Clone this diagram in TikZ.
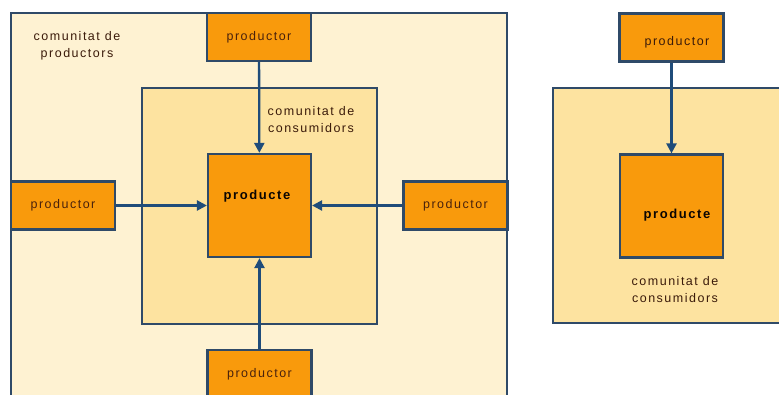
\documentclass[tikz,border=0pt]{standalone}
\usepackage{fontspec}
\setmainfont{Liberation Sans}[LetterSpace=12]
\usetikzlibrary{arrows.meta}
\definecolor{edgeblue}{HTML}{2F4A68}
\definecolor{arrowblue}{HTML}{1F4C7A}
\definecolor{creamfill}{HTML}{FEF2D2}
\definecolor{sandfill}{HTML}{FDE3A0}
\definecolor{orangefill}{HTML}{F99A0C}
\definecolor{inkbrown}{HTML}{4A220C}
\tikzset{
  area/.style={draw=edgeblue, line width=2.2pt, inner sep=0pt},
  prodbox/.style={draw=edgeblue, line width=2.2pt, fill=orangefill, inner sep=0pt,
    minimum width=104pt, minimum height=48pt, text=inkbrown,
    font=\fontsize{12.5}{15}\selectfont},
  itembox/.style={draw=edgeblue, line width=2.2pt, fill=orangefill, inner sep=0pt,
    minimum width=103pt, minimum height=103pt},
  caption/.style={text=inkbrown!80!black, align=center, inner sep=0pt,
    font=\fontsize{12.5}{17}\selectfont},
  itemtext/.style={text=black!85!inkbrown, inner sep=0pt,
    font=\fontsize{13}{15}\selectfont\bfseries},
  flow/.style={draw=arrowblue, line width=2.3pt, -{Triangle[length=10pt,width=10pt]}}
}
\begin{document}
\begin{tikzpicture}[x=1pt, y=-1pt]
  \useasboundingbox (0,0) rectangle (779,394);
  \clip (0,0) rectangle (779,394);
  \fill[white] (0,0) rectangle (779,394);

  % community of producers with the community of consumers inside
  \node[area, fill=creamfill, minimum width=496pt, minimum height=420pt] (prodcomm) at (259,223) {};
  \node[area, fill=sandfill, minimum width=235pt, minimum height=236pt] (conscomm) at (259.5,206) {};
  \node[caption] (prodcommtext) at (77,46) {comunitat de\\productors};
  \node[caption] (conscommtext) at (311,120) {comunitat de\\consumidors};

  % the product and its producers
  \node[itembox] (item) at (259.5,205.5) {};
  \node[itemtext] (itemtext) at (257,196) {producte};
  \node[prodbox] (ptop) at (259,37) {productor};
  \node[prodbox] (pleft) at (63,205.5) {productor};
  \node[prodbox] (pright) at (455.5,205.5) {productor};
  \node[prodbox] (pbottom) at (259.5,374) {productor};

  \draw[flow] (ptop) -- (item);
  \draw[flow] (pleft) -- (item);
  \draw[flow] (pright) -- (item);
  \draw[flow] (pbottom) -- (item);

  % single producer and a community of consumers
  \node[area, fill=sandfill, minimum width=260pt, minimum height=235pt] (conscomm2) at (683,205.5) {};
  \node[caption] (conscommtext2) at (675,290) {comunitat de\\consumidors};
  \node[itembox] (item2) at (671.5,206) {};
  \node[itemtext] (itemtext2) at (677,215) {producte};
  \node[prodbox] (ptop2) at (671.5,37.5) {};
  \node[caption] (ptoptext2) at (677,42) {productor};
  \draw[flow] (ptop2) -- (item2);
\end{tikzpicture}
\end{document}
